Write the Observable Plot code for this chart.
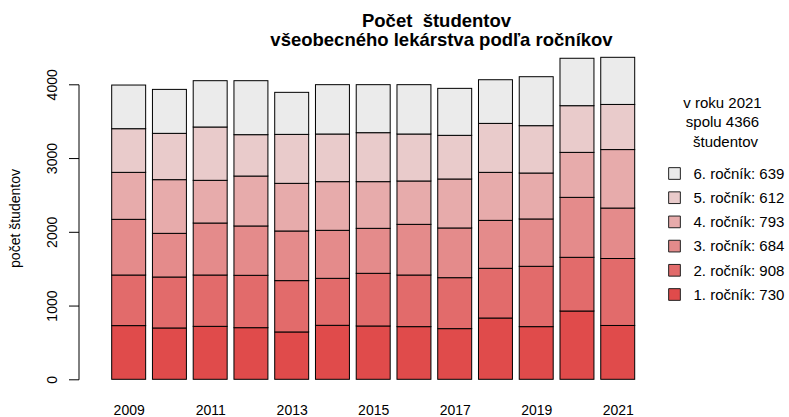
<!DOCTYPE html>
<html><head><meta charset="utf-8">
<script src="https://cdn.jsdelivr.net/npm/d3@7"></script>
<script src="https://cdn.jsdelivr.net/npm/@observablehq/plot@0.6"></script>
<style>body{margin:0;background:#fff}</style>
</head><body><div id="chart"></div>
<script>
const years = [2009,2010,2011,2012,2013,2014,2015,2016,2017,2018,2019,2020,2021];
const r1 = [728,696,718,700,642,732,723,714,687,831,714,926,730];
const r2 = [686,691,696,710,696,637,714,700,691,674,818,728,908];
const r3 = [755,592,705,669,673,651,610,687,674,650,642,813,684];
const r4 = [637,728,579,677,646,660,633,588,664,651,623,610,793];
const r5 = [592,628,723,561,664,646,664,637,592,664,642,633,612];
const r6 = [592,596,628,732,570,669,651,669,637,592,664,643,639];
const gradeNames = ["1. ročník","2. ročník","3. ročník","4. ročník","5. ročník","6. ročník"];
const colors = ["#E04B4B","#E26B6B","#E48B8B","#E7ABAB","#E9CBCB","#EBEBEB"];
const xTickYears = [2009,2011,2013,2015,2017,2019,2021];
const yTicks = [0,1000,2000,3000,4000];
const titleLines = ["Počet\u00a0 študentov", "všeobecného lekárstva podľa ročníkov"];
const yLabel = "počet študentov";

const series = [r1,r2,r3,r4,r5,r6];
const data = [];
years.forEach((yr, j) => series.forEach((s, i) => data.push({year: yr, grade: gradeNames[i], value: s[j]})));
const lastIdx = years.length - 1;
const total = series.reduce((a, s) => a + s[lastIdx], 0);

const FONT = '"Liberation Sans", Arial, Helvetica, sans-serif';
const ML = 79, MT = 44, MB = 25, H = 417;

const legendMarks = [];
const header = [`v roku ${years[lastIdx]}`, `spolu ${total}`, "študentov"];
const headerX = [722, 722, 725];
const headerY = [107, 126.5, 146];
header.forEach((t, k) => legendMarks.push(Plot.text([t], {text: d => d, frameAnchor: "top-left", dx: headerX[k] - ML, dy: headerY[k] - MT, textAnchor: "middle", lineAnchor: "bottom", fontSize: 15})));
for (let k = 0; k < 6; k++) {
  const gi = 5 - k;
  const cy = 173 + 24.2 * k;
  legendMarks.push(Plot.dot([0], {frameAnchor: "top-left", dx: 674 - ML, dy: cy - MT, symbol: "square", r: 6.6, fill: colors[gi], stroke: "#222", strokeWidth: 1}));
  legendMarks.push(Plot.text([`${gradeNames[gi]}: ${series[gi][lastIdx]}`], {text: d => d, frameAnchor: "top-left", dx: 693 - ML, dy: cy + 5.3 - MT, textAnchor: "start", lineAnchor: "bottom", fontSize: 15}));
}

const chart = Plot.plot({
  width: 789, height: H,
  marginLeft: ML, marginRight: 134, marginTop: MT, marginBottom: MB,
  style: {fontFamily: FONT, fontSize: "14px", background: "white", color: "black"},
  x: {type: "band", domain: years, range: [104.9, 641.5], padding: 0.1667, round: false, axis: null, label: null},
  y: {domain: [0, 4400], range: [379.3, 54.8], axis: null, label: null},
  color: {domain: gradeNames, range: colors},
  marks: [
    Plot.barY(data, {x: "year", y: "value", fill: "grade", stroke: "black", strokeWidth: 1}),
    Plot.text(xTickYears, {x: d => d, text: d => String(d), frameAnchor: "bottom", dy: 414 - (H - MB), textAnchor: "middle", lineAnchor: "bottom", fontSize: 14}),
    Plot.axisY({ticks: yTicks, tickSize: 10, tickFormat: () => "", label: null}),
    Plot.text(yTicks, {y: d => d, text: d => String(d), frameAnchor: "left", dx: 56 - ML, rotate: -90, textAnchor: "middle", lineAnchor: "bottom", fontSize: 14}),
    Plot.text([yLabel], {text: d => d, frameAnchor: "left", dx: 15 - ML, rotate: -90, textAnchor: "middle", lineAnchor: "middle", fontSize: 14}),
    Plot.text([titleLines[0]], {text: d => d, frameAnchor: "top-left", dx: 436 - ML, dy: 26 - MT, textAnchor: "middle", lineAnchor: "bottom", fontWeight: "bold", fontSize: 18.5}),
    Plot.text([titleLines[1]], {text: d => d, frameAnchor: "top-left", dx: 441 - ML, dy: 45.5 - MT, textAnchor: "middle", lineAnchor: "bottom", fontWeight: "bold", fontSize: 18.5}),
    ...legendMarks
  ]
});
const ys = chart.scale("y");
d3.select(chart).append("line")
  .attr("x1", ML).attr("x2", ML)
  .attr("y1", ys.apply(0) + 0.5).attr("y2", ys.apply(4000) + 0.5)
  .attr("stroke", "black");
document.getElementById("chart").append(chart);
</script>
</body></html>
